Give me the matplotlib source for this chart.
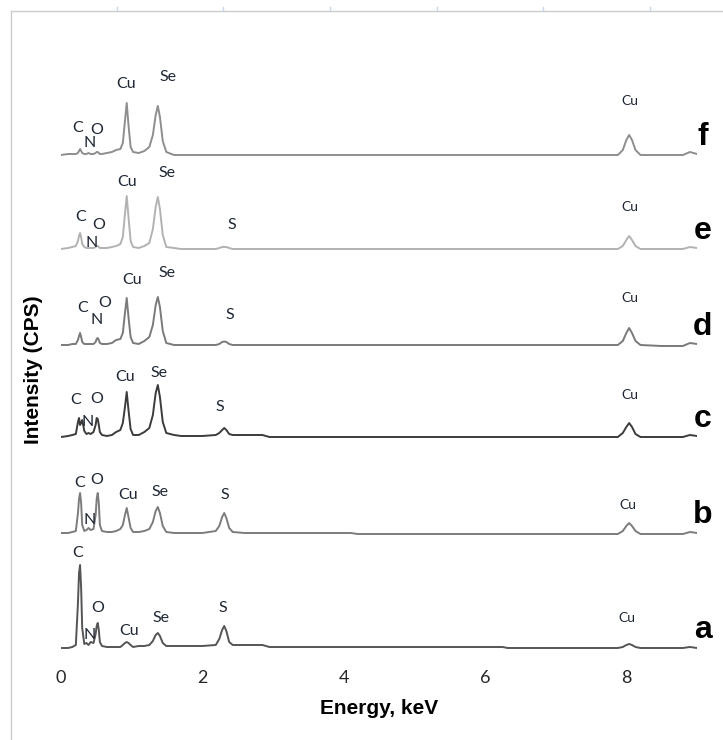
import matplotlib.pyplot as plt
from matplotlib.lines import Line2D

plt.rcParams['font.family'] = ['Lato', 'DejaVu Sans']

# energy grid (keV), shared by all six spectra
energy = [0.0, 0.1, 0.16,
          0.21, 0.24, 0.255, 0.27, 0.285, 0.30, 0.33,
          0.36, 0.39, 0.42,
          0.46, 0.49, 0.505, 0.52, 0.535, 0.55, 0.58,
          0.65, 0.72, 0.78,
          0.84, 0.875, 0.905, 0.93, 0.955, 0.985, 1.02,
          1.1, 1.18,
          1.25, 1.30, 1.34, 1.37, 1.40, 1.44, 1.49,
          1.6, 1.7, 2.0,
          2.19, 2.24, 2.28, 2.31, 2.34, 2.38, 2.43,
          2.6, 2.85, 2.95, 4.1, 4.2, 6.25, 6.32, 7.5,
          7.88, 7.95, 8.0, 8.04, 8.08, 8.13, 8.2,
          8.5, 8.8, 8.9, 9.0]

# intensities (arbitrary CPS)
cps_a = [0, 0, 1,
         3, 45, 75, 83, 60, 20, 4,
         5, 3, 6,
         5, 14, 22, 25, 18, 6, 2,
         1, 1, 1,
         1, 3, 5, 6, 5, 3, 1,
         2, 2,
         3, 7, 13, 15, 12, 5, 2,
         2, 2, 2,
         3, 9, 18, 22, 17, 6, 3,
         3, 3, 1, 1, 1, 1, 0, 0,
         0, 1, 3, 4, 3, 1, 0,
         0, 0, 1, 0]

cps_b = [0, 0, 1,
         2, 20, 34, 40, 30, 8, 2,
         3, 5, 3,
         4, 18, 34, 40, 30, 8, 2,
         1, 1, 2,
         4, 8, 18, 25, 16, 5, 1,
         1, 2,
         4, 11, 22, 26, 20, 7, 1,
         0, 0, 0,
         2, 7, 16, 20, 15, 5, 1,
         0, 0, 0, 0, -1, -1, -1, -1,
         -1, 2, 7, 10, 7, 2, -1,
         -1, -1, 1, 0]

cps_c = [0, 1, 2,
         3, 15, 19, 12, 14, 17, 6,
         3, 4, 3,
         5, 12, 19, 18, 12, 5, 2,
         1, 2, 5,
         7, 14, 30, 45, 27, 8, 2,
         2, 5,
         9, 22, 44, 52, 40, 15, 4,
         2, 1, 1,
         2, 4, 7, 9, 7, 3, 2,
         2, 2, 0, 0, 0, 0, 0, 0,
         0, 4, 10, 14, 10, 3, 0,
         0, 0, 2, 1]

cps_d = [0, 0, 1,
         1, 5, 9, 12, 8, 3, 1,
         1, 1, 1,
         1, 3, 6, 7, 5, 2, 1,
         1, 2, 5,
         6, 12, 32, 47, 28, 8, 2,
         1, 4,
         8, 20, 40, 48, 38, 14, 2,
         0, 0, 0,
         0, 1, 3, 3.5, 3, 1, 0,
         0, 0, 0, 0, 0, 0, 0, 0,
         0, 4, 12, 17, 12, 4, 0,
         -1, -1, 2, 1]

cps_e = [0, 1, 2,
         3, 8, 13, 16, 12, 5, 2,
         1, 1, 1,
         1, 2, 3, 3, 2, 1, 1,
         1, 2, 3,
         5, 12, 35, 53, 32, 8, 2,
         1, 3,
         6, 20, 42, 52, 40, 14, 2,
         1, 0, 0,
         0, 1, 2, 2, 2, 1, 0,
         0, 0, 0, 0, 0, 0, 0, 0,
         0, 3, 9, 13, 9, 3, 0,
         0, 0, 2, 1]

cps_f = [0, 1, 1,
         1, 2, 4, 6, 4, 2, 1,
         1, 2, 1,
         1, 2, 3, 3, 2, 1, 1,
         2, 3, 5,
         6, 12, 34, 52, 30, 8, 3,
         2, 4,
         8, 20, 40, 49, 38, 14, 3,
         0, 0, 0,
         0, 0, 0, 0, 0, 0, 0,
         0, 0, 0, 0, 0, 0, 0, 0,
         0, 5, 15, 20, 15, 5, 0,
         0, 0, 3, 1]

samples = ['a', 'b', 'c', 'd', 'e', 'f']
spectra = [cps_a, cps_b, cps_c, cps_d, cps_e, cps_f]

# element labels per spectrum: (element, energy, height above baseline)
peak_labels = {
    'f': [('C', 0.24, 27), ('N', 0.40, 12), ('O', 0.51, 25), ('Cu', 0.92, 71),
          ('Se', 1.51, 78), ('Cu', 8.05, 54)],
    'e': [('C', 0.28, 32), ('N', 0.44, 6), ('O', 0.54, 24), ('Cu', 0.93, 67),
          ('Se', 1.50, 76), ('S', 2.42, 24), ('Cu', 8.05, 42)],
    'd': [('C', 0.31, 37), ('N', 0.50, 25), ('O', 0.62, 42), ('Cu', 1.00, 65),
          ('Se', 1.50, 72), ('S', 2.39, 30), ('Cu', 8.05, 47)],
    'c': [('C', 0.20, 37), ('N', 0.38, 15), ('O', 0.51, 38), ('Cu', 0.91, 60),
          ('Se', 1.39, 64), ('S', 2.25, 30), ('Cu', 8.05, 42)],
    'b': [('C', 0.27, 50), ('N', 0.40, 13), ('O', 0.51, 53), ('Cu', 0.95, 38),
          ('Se', 1.40, 41), ('S', 2.32, 38), ('Cu', 8.02, 28)],
    'a': [('C', 0.24, 95), ('N', 0.40, 13), ('O', 0.52, 40), ('Cu', 0.96, 17),
          ('Se', 1.42, 30), ('S', 2.29, 40), ('Cu', 8.01, 30)],
}

# vertical stacking and line colours
baseline = {'a': 12, 'b': 127, 'c': 223, 'd': 315, 'e': 411, 'f': 505}
colors = {'a': '#555555', 'b': '#7c7c7c', 'c': '#3c3c3c',
          'd': '#7a7a7a', 'e': '#b2b2b2', 'f': '#8e8e8e'}

W, H = 723, 740
fig = plt.figure(figsize=(W / 100, H / 100), dpi=100)
ax = fig.add_axes([61 / W, 80 / H, 636 / W, 640 / H])

for s, cps in zip(samples, spectra):
    b0 = baseline[s]
    ax.plot(energy, [v + b0 for v in cps], color=colors[s], lw=1.4,
            solid_joinstyle='round')
    for el, x, dy in peak_labels[s]:
        small = x > 7
        ax.text(x, b0 + dy, el, ha='center', va='center',
                fontsize=10 if small else 11.5, color='#1e2633')
    ax.text(9.08, b0 + 18, s, ha='center', va='center', fontsize=23,
            fontweight='bold', family='Liberation Sans', color='black')

ax.set_xlim(0, 9)
ax.set_ylim(0, 640)
ax.set_yticks([])
ax.set_xticks([0, 2, 4, 6, 8])
ax.tick_params(axis='x', length=0, pad=7, labelsize=13, labelcolor='#262626')
for sp in ax.spines.values():
    sp.set_visible(False)

fig.text(379 / W, 1 - 709 / H, 'Energy, keV', ha='center', va='center',
         fontsize=15, fontweight='bold', family='Liberation Sans')
fig.text(34 / W, 1 - 370 / H, 'Intensity (CPS)', ha='center', va='center',
         rotation=90, fontsize=15, fontweight='bold', family='Liberation Sans')

# frame remnants of the original screenshot
fig.add_artist(Line2D([11 / W, 11 / W], [0, 1 - 11 / H], color='#cccccc', lw=1))
fig.add_artist(Line2D([11 / W, 1], [1 - 11 / H, 1 - 11 / H], color='#cccccc', lw=1))
for xp in [117, 223, 330, 437, 543, 650]:
    fig.add_artist(Line2D([xp / W, xp / W], [1 - 11 / H, 1 - 7 / H],
                          color='#c8d6e6', lw=1))

fig.savefig('out.png', dpi=100)
